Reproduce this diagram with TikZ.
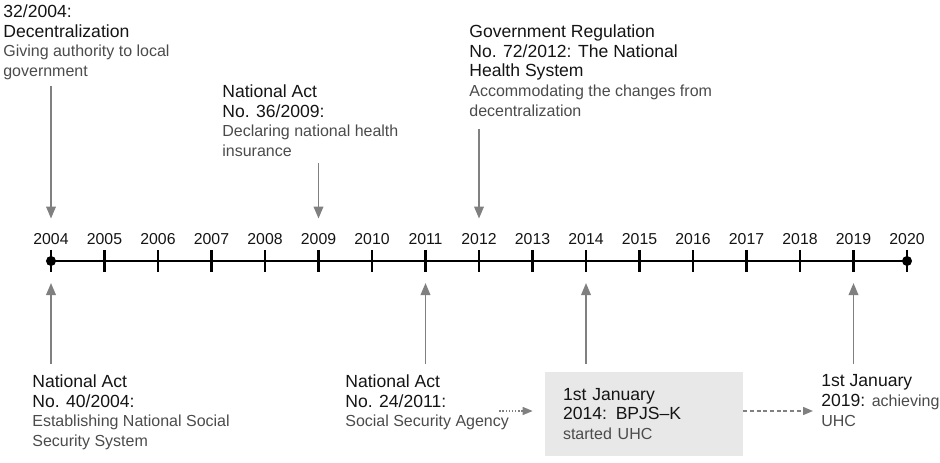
\documentclass[tikz,border=0pt]{standalone}
\usepackage{fontspec}
\setmainfont{Liberation Sans}
\usetikzlibrary{arrows.meta, positioning, calc}
\definecolor{mygray}{RGB}{128,128,128}
\definecolor{mytext}{RGB}{20,20,20}
\definecolor{mydesc}{RGB}{75,75,75}
\definecolor{myfill}{RGB}{232,232,232}
\newcommand{\evtitle}{\fontsize{10}{11.2}\selectfont}
\newcommand{\evdesc}{\fontsize{9.1}{11.2}\selectfont\color{mydesc}}
\tikzset{
  yearlbl/.style={font=\fontsize{9}{10}\selectfont, inner sep=0pt, anchor=base, text=mytext},
  event/.style={align=left, inner sep=0pt, anchor=north west, font=\evtitle, text=mytext},
  eventbox/.style={rectangle, fill=myfill, align=left, text width=3.24cm,
    font=\evtitle, text=mytext,
    inner xsep=0.36cm, inner ysep=0pt, minimum width=3.96cm, minimum height=1.68cm},
  evarrow/.style={-{Triangle[width=0.19cm,length=0.24cm]}, line width=1.1pt, color=mygray},
  dotarrow/.style={-{Triangle[width=0.16cm,length=0.2cm]}, line width=0.8pt, color=mygray,
    dash pattern=on 0.8pt off 1pt},
  dasharrow/.style={-{Triangle[width=0.16cm,length=0.2cm]}, line width=0.8pt, color=mygray,
    dash pattern=on 2.2pt off 1.6pt},
  tline/.style={line width=1.4pt, color=black},
  tickline/.style={line width=1.2pt, color=black}
}
\begin{document}
\begin{tikzpicture}
  \useasboundingbox (-1.02,-4.02) rectangle (17.78,5.22);

  % Timeline with years
  \foreach \yr [count=\i from 0] in {2004,...,2020} {
    \coordinate (tk\yr) at ({\i*1.07},0);
    \draw[tickline] ({\i*1.07},0.22) -- ({\i*1.07},-0.22);
    \node[yearlbl] (yr\yr) at ({\i*1.07},0.32) {\yr};
  }
  \draw[tline] (tk2004) -- (tk2020);
  \fill (tk2004) circle (0.1);
  \fill (tk2020) circle (0.1);

  % Events above the line
  \node[event] (ev2004t) at (-0.96,5.13)
    {32/2004:\\ Decentralization\\ \evdesc Giving authority to local\\ \evdesc government};
  \node[event] (ev2009) at (3.42,3.53)
    {National Act\\ No. 36/2009:\\ \evdesc Declaring national health\\ \evdesc insurance};
  \node[event] (ev2012) at (8.36,4.73)
    {Government Regulation\\ No. 72/2012: The National\\ Health System\\
     \evdesc Accommodating the changes from\\ \evdesc decentralization};

  % Events below the line
  \node[event] (ev2004b) at (-0.38,-2.27)
    {National Act\\ No. 40/2004:\\ \evdesc Establishing National Social\\ \evdesc Security System};
  \node[event] (ev2011) at (5.88,-2.27)
    {National Act\\ No. 24/2011:\\ \evdesc Social Security Agency};
  \node[eventbox] (box) at (11.86,-3.06)
    {1st January\\ \mbox{2014: BPJS--K}\\ \evdesc started UHC};
  \node[event] (ev2019) at (15.4,-2.27)
    {1st January\\ 2019: \evdesc achieving\\ \evdesc UHC};

  % Arrows to the timeline
  \draw[evarrow, shorten <=0.12cm, shorten >=0.3cm] (ev2004t.south -| tk2004) -- (yr2004.north);
  \draw[evarrow, shorten <=0.12cm, shorten >=0.3cm] (ev2009.south -| tk2009) -- (yr2009.north);
  \draw[evarrow, shorten <=0.24cm, shorten >=0.3cm] (ev2012.south -| tk2012) -- (yr2012.north);
  \draw[evarrow, shorten <=0.21cm, shorten >=0.44cm] (ev2004b.north -| tk2004) -- (tk2004);
  \draw[evarrow, shorten <=0.21cm, shorten >=0.44cm] (ev2011.north -| tk2011) -- (tk2011);
  \draw[evarrow, shorten <=0.16cm, shorten >=0.44cm] (box.north -| tk2014) -- (tk2014);
  \draw[evarrow, shorten <=0.21cm, shorten >=0.44cm] (ev2019.north -| tk2019) -- (tk2019);

  % Links between events
  \draw[dotarrow, shorten >=0.24cm] ($(ev2011.east |- box.west)+(-0.2,0.06)$) -- ($(box.west)+(0,0.06)$);
  \draw[dasharrow, shorten >=0.16cm] ($(box.east)+(0,0.06)$) -- ($(box.east -| ev2019.west)+(0,0.06)$);
\end{tikzpicture}
\end{document}
